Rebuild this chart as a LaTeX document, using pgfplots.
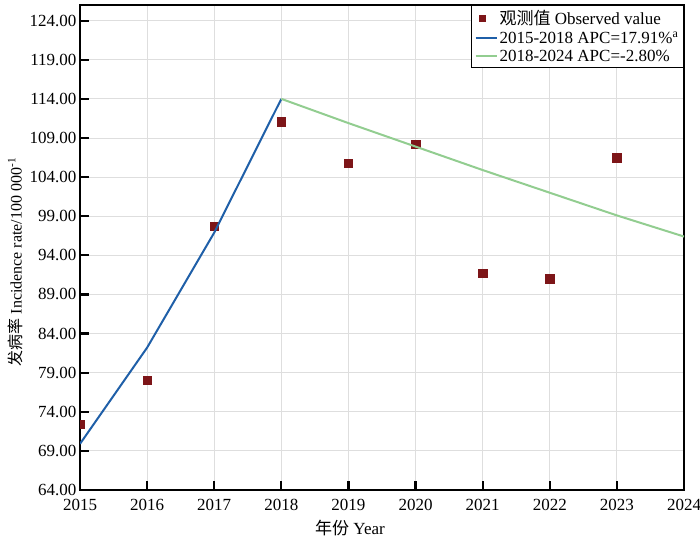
\documentclass[border=0pt]{standalone}
\usepackage{pgfplots}
\pgfplotsset{compat=1.18}
\usepackage{fontspec}
\setmainfont{Liberation Serif}
\newfontfamily\cjk{Noto Sans CJK SC}
\definecolor{obsred}{HTML}{7D1518}
\definecolor{fitblue}{HTML}{1F5FA8}
\definecolor{fitgreen}{HTML}{92CD90}
\definecolor{gridgray}{HTML}{DEDEDE}
\pgfplotsset{
  mkleg/.style={legend image code/.code={\draw[##1,mark size=3pt] plot coordinates {(7pt,0pt)};}},
  lnleg/.style={legend image code/.code={\draw[##1] (0pt,0pt) -- (21pt,0pt);}},
}
\begin{document}
\begin{tikzpicture}
\begin{axis}[
  name=ax,
  scale only axis,
  width=604pt, height=485pt,
  xmin=2015, xmax=2024,
  ymin=64, ymax=126,
  xtick={2015,2016,...,2024},
  ytick={64,69,...,124},
  /pgf/number format/assume math mode=true,
  xticklabel style={/pgf/number format/1000 sep={}, yshift=-6pt},
  yticklabel style={/pgf/number format/.cd,fixed,fixed zerofill,precision=2},
  tick label style={font=\fontsize{17}{19}\selectfont},
  label style={font=\fontsize{17}{19}\selectfont},
  grid=major,
  major grid style={gridgray, line width=0.9pt},
  tick align=inside,
  xtick pos=bottom, ytick pos=left,
  major tick length=9pt,
  major tick style={black, line width=2.2pt},
  axis line style={black, line width=2pt},
  xlabel={{\cjk 年份} Year},
  xlabel style={at={(axis description cs:0.447,0)}, anchor=north, yshift=-27pt},
  ylabel={{\cjk 发病率} Incidence rate/100 000\textsuperscript{-1}},
  ylabel style={at={(ticklabel cs:0.47)}, font=\fontsize{16}{18}\selectfont},
  clip marker paths=true,
  legend style={at={(1,1)}, anchor=north east, draw=black, line width=1.4pt,
    fill=white, font=\fontsize{17}{18}\selectfont, inner sep=3pt,
    row sep=1pt, legend cell align=left},
]
\addplot[only marks, mark=square*, mark size=4.2pt, obsred, mkleg]
  coordinates {(2015,72.4) (2016,78.0) (2017,97.7) (2018,111.1) (2019,105.8)
  (2020,108.2) (2021,91.7) (2022,91.0) (2023,106.5)};
\addlegendentry{{\cjk 观测值} Observed value}
\addplot[fitblue, line width=2pt, mark=none, lnleg]
  coordinates {(2015,69.9) (2016,82.2) (2017,96.9) (2018,114.0)};
\addlegendentry{2015-2018 APC=17.91\%\textsuperscript{a}}
\addplot[fitgreen, line width=2pt, mark=none, lnleg]
  coordinates {(2018,114.0) (2019,110.9) (2020,107.9) (2021,104.9) (2022,102.0) (2023,99.1) (2024,96.4)};
\addlegendentry{2018-2024 APC=-2.80\%}
\end{axis}
\pgfresetboundingbox
\path ([xshift=-80pt,yshift=-52pt]ax.south west) rectangle ([xshift=16pt,yshift=5pt]ax.north east);
\end{tikzpicture}
\end{document}
